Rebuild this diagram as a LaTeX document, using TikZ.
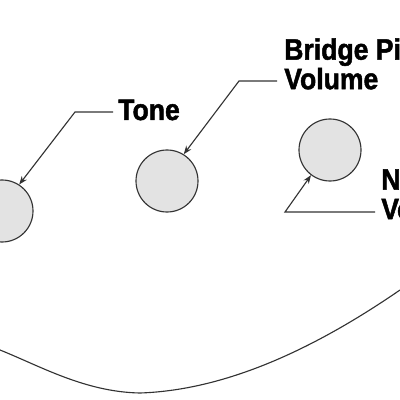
\documentclass[tikz,border=0pt]{standalone}
\usepackage{fontspec}
\newfontfamily\knobfont{Liberation Sans}[FakeStretch=0.9, FakeBold=1.6]
\usetikzlibrary{arrows.meta, positioning}

\begin{document}
\begin{tikzpicture}[x=0.025cm, y=-0.025cm,
    knob/.style={circle, draw=black!80, line width=0.8pt, fill=black!11, minimum size=1.55cm, inner sep=0pt},
    leader/.style={draw=black!80, line width=0.8pt, -{Stealth[length=6pt, width=4.5pt]}},
    knoblabel/.style={font=\knobfont\bfseries\fontsize{21}{21}\selectfont, inner sep=0pt, align=left, text=black}]
    \useasboundingbox (0,0) rectangle (400,400);
    \clip (0,0) rectangle (400,400);

    % the three knobs
    \node[knob] (tone) at (2, 211) {};
    \node[knob] (bridge) at (167, 181) {};
    \node[knob] (neck) at (330, 150) {};

    % labels
    \node[knoblabel, anchor=base west] (tonelabel) at (118, 120) {Tone};
    \node[knoblabel, anchor=north west] (bridgelabel) at (284, 38) {Bridge Pickup\\Volume};
    \node[knoblabel, anchor=north west] (necklabel) at (381, 168) {Neck\\Volume};

    % leader lines
    \coordinate (tonebend) at (75, 112);
    \coordinate (bridgebend) at (239, 81);
    \coordinate (neckbend) at (285, 212);
    \draw[leader] (113, 112) -- (tonebend) -- (tone.57);
    \draw[leader] (277, 81) -- (bridgebend) -- (bridge.58);
    \draw[leader] (375, 212) -- (neckbend) -- (neck.233);

    % edge of the body
    \draw[black!80, line width=0.8pt] (0,350) .. controls (40,366) and (85,392) .. (140,393)
        .. controls (230,390) and (320,345) .. (400,290);
\end{tikzpicture}
\end{document}
